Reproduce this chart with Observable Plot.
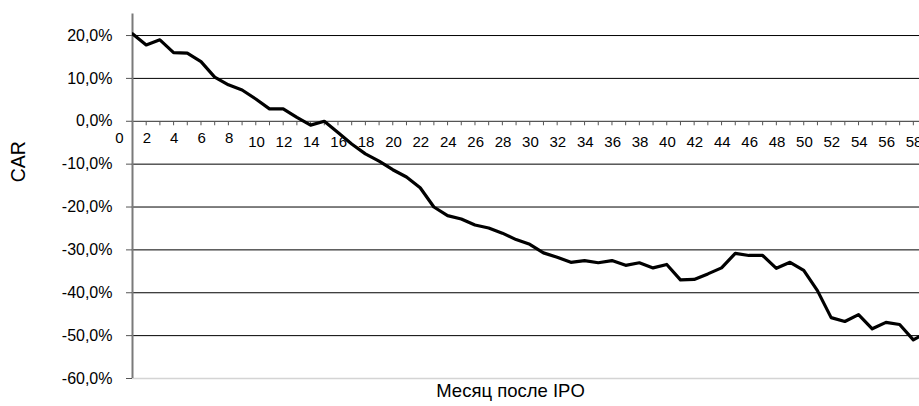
<!DOCTYPE html>
<html>
<head>
<meta charset="utf-8">
<script src="https://cdn.jsdelivr.net/npm/d3@7"></script>
<script src="https://cdn.jsdelivr.net/npm/@observablehq/plot@0.6"></script>
<style>
  html, body { margin: 0; padding: 0; background: #fff; overflow: hidden; }
  #chart svg { display: block; }
</style>
</head>
<body>
<div id="chart"></div>
<script>
const months = d3.range(0, 59);
const car = [
  20.4, 17.8, 19.0, 16.0, 15.9, 13.9, 10.3, 8.5, 7.3, 5.2,
  2.9, 2.9, 0.9, -0.9, 0.0, -2.6, -5.3, -7.6, -9.3, -11.3,
  -13.0, -15.5, -20.0, -22.0, -22.8, -24.2, -24.9, -26.1, -27.6, -28.7,
  -30.7, -31.7, -32.9, -32.5, -33.0, -32.5, -33.6, -33.0, -34.2, -33.4,
  -37.0, -36.9, -35.6, -34.2, -30.8, -31.3, -31.3, -34.3, -32.9, -34.8,
  -39.5, -45.8, -46.7, -45.1, -48.4, -46.9, -47.4, -51.0, -49.2
];
const yTicks = [20, 10, 0, -10, -20, -30, -40, -50, -60];
const gridValues = [20, 10, -10, -20, -30, -40, -50];
const xLabelsShort = [0, 2, 4, 6, 8];
const xLabelsLong = d3.range(10, 59, 2);
const yTitle = "CAR";
const xTitle = "Месяц после IPO";

const data = months.map((m, i) => ({month: m, car: car[i]}));

const tickSymbol = {
  draw(context) {
    context.moveTo(0, 0);
    context.lineTo(0, 4);
  }
};

const fmt = d => d.toFixed(1).replace(".", ",") + "%";

const chart = Plot.plot({
  width: 919,
  height: 406,
  marginLeft: 132,
  marginRight: 0,
  marginTop: 13.6,
  marginBottom: 28,
  style: {fontFamily: "'Liberation Sans', Arial, sans-serif", background: "#fff"},
  x: {domain: [0, 57.45], axis: null},
  y: {domain: [-60, 25], axis: null},
  marks: [
    Plot.ruleY(gridValues, {stroke: "#000", strokeWidth: 1}),
    Plot.ruleY([-60], {stroke: "#d4d4d4", strokeWidth: 1.5}),
    Plot.ruleY([0], {stroke: "#555", strokeWidth: 1.2}),
    Plot.dot(months, {x: d => d, y: 0, symbol: tickSymbol, fill: "none", stroke: "#555", strokeWidth: 1}),
    Plot.ruleX([0], {y1: -60, y2: 25, stroke: "#7a7a7a", strokeWidth: 2}),
    Plot.axisY(yTicks, {
      anchor: "left",
      tickSize: 6,
      tickPadding: 14,
      tickFormat: fmt,
      fontSize: 16,
      stroke: "#555",
      fill: "#000",
      label: null
    }),
    Plot.text(xLabelsShort, {x: d => d, y: 0, text: d => String(d), dx: -13, dy: 17, fontSize: 15, fill: "#000"}),
    Plot.text(xLabelsLong, {x: d => d, y: 0, text: d => String(d), dx: -13, dy: 20.5, fontSize: 15, fill: "#000"}),
    Plot.line(data, {x: "month", y: "car", stroke: "#000", strokeWidth: 3.2, strokeLinejoin: "round", clip: true}),
    Plot.text([yTitle], {frameAnchor: "left", rotate: -90, dx: -114, dy: -14, fontSize: 19.5, fill: "#000"}),
    Plot.text([xTitle], {frameAnchor: "bottom", dx: -15.5, dy: 18.5, fontSize: 18.5, fill: "#000"})
  ]
});
document.getElementById("chart").append(chart);
</script>
</body>
</html>
